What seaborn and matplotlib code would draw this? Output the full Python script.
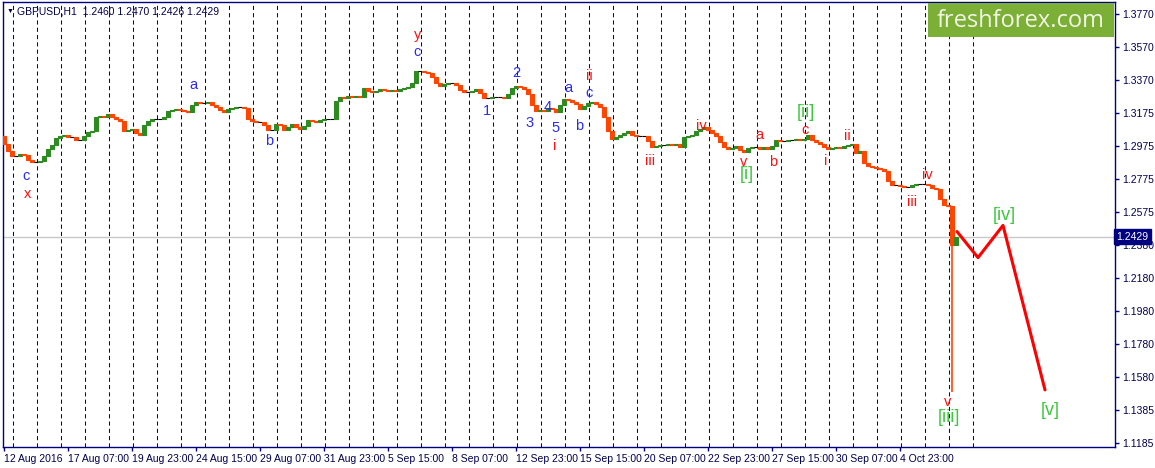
import numpy as np
import pandas as pd
import matplotlib
matplotlib.use("Agg")
import matplotlib.pyplot as plt
from matplotlib.patches import Rectangle
import seaborn as sns

# ---- data --------------------------------------------------------------
header = "GBPUSD,H1  1.2460 1.2470 1.2426 1.2429"
last_price = 1.2429

first_open = 1.3033
# closes of consecutive 4-hour blocks (12 Aug 2016 15:00 -> 7 Oct 2016)
closes = [
    1.2985, 1.2943, 1.2912, 1.2912, 1.2925, 1.2918, 1.2888, 1.2876, 1.2876, 1.2882,
    1.2912, 1.2955, 1.2979, 1.3021, 1.3033, 1.3039, 1.3027, 1.3027, 1.3009, 1.3009,
    1.3033, 1.3057, 1.3063, 1.3148, 1.3154, 1.3148, 1.3166, 1.3148, 1.3136, 1.3124,
    1.3063, 1.3069, 1.3075, 1.3051, 1.3039, 1.3100, 1.3124, 1.3136, 1.3136, 1.3136,
    1.3148, 1.3184, 1.3190, 1.3196, 1.3190, 1.3184, 1.3178, 1.3221, 1.3239, 1.3233,
    1.3233, 1.3239, 1.3221, 1.3208, 1.3190, 1.3178, 1.3196, 1.3202, 1.3208, 1.3208,
    1.3202, 1.3136, 1.3124, 1.3118, 1.3118, 1.3100, 1.3069, 1.3069, 1.3106, 1.3100,
    1.3069, 1.3088, 1.3106, 1.3088, 1.3075, 1.3094, 1.3130, 1.3124, 1.3118, 1.3130,
    1.3136, 1.3136, 1.3136, 1.3245, 1.3269, 1.3263, 1.3275, 1.3269, 1.3275, 1.3269,
    1.3323, 1.3305, 1.3299, 1.3305, 1.3317, 1.3311, 1.3305, 1.3311, 1.3305, 1.3317,
    1.3323, 1.3329, 1.3353, 1.3426, 1.3426, 1.3420, 1.3414, 1.3390, 1.3353, 1.3335,
    1.3347, 1.3353, 1.3353, 1.3341, 1.3311, 1.3299, 1.3299, 1.3305, 1.3317, 1.3293,
    1.3263, 1.3263, 1.3269, 1.3269, 1.3269, 1.3263, 1.3287, 1.3323, 1.3335, 1.3329,
    1.3317, 1.3287, 1.3221, 1.3184, 1.3190, 1.3184, 1.3202, 1.3196, 1.3178, 1.3221,
    1.3257, 1.3251, 1.3239, 1.3227, 1.3196, 1.3214, 1.3233, 1.3239, 1.3227, 1.3208,
    1.3148, 1.3063, 1.3015, 1.3027, 1.3039, 1.3051, 1.3063, 1.3039, 1.3033, 1.3033,
    1.3033, 1.3003, 1.2967, 1.2973, 1.2979, 1.2979, 1.2985, 1.2979, 1.2985, 1.2967,
    1.3027, 1.3033, 1.3039, 1.3063, 1.3075, 1.3088, 1.3069, 1.3051, 1.3033, 1.2997,
    1.2967, 1.2955, 1.2961, 1.2973, 1.2949, 1.2937, 1.2961, 1.2967, 1.2967, 1.2955,
    1.2967, 1.2955, 1.2973, 1.3009, 1.3003, 1.3003, 1.3009, 1.3009, 1.3015, 1.3009,
    1.3015, 1.3039, 1.3009, 1.2997, 1.2985, 1.2967, 1.2955, 1.2961, 1.2967, 1.2961,
    1.2973, 1.2979, 1.2985, 1.2931, 1.2943, 1.2870, 1.2852, 1.2846, 1.2840, 1.2834,
    1.2822, 1.2761, 1.2737, 1.2737, 1.2731, 1.2725, 1.2725, 1.2737, 1.2743, 1.2743,
    1.2743, 1.2737, 1.2719, 1.2713, 1.2653, 1.2616, 1.2610, 1.2381, 1.2429,
]
crash_block = 237
crash_low = 1.1491

date_labels = ["12 Aug 2016", "17 Aug 07:00", "19 Aug 23:00", "24 Aug 15:00",
               "29 Aug 07:00", "31 Aug 23:00", "5 Sep 15:00", "8 Sep 07:00",
               "12 Sep 23:00", "15 Sep 15:00", "20 Sep 07:00", "22 Sep 23:00",
               "27 Sep 15:00", "30 Sep 07:00", "4 Oct 23:00"]
price_labels = ["1.3770", "1.3570", "1.3370", "1.3175", "1.2975", "1.2775", "1.2575",
                "1.2380", "1.2180", "1.1980", "1.1780", "1.1580", "1.1385", "1.1185"]

# forecast path (bar index, price)
proj_bar = [953, 974, 999, 1041]
proj_price = [1.2459, 1.2302, 1.2496, 1.1505]

# wave labels: text, bar index, price, colour key
waves = [
    ("c", 22, 1.2792, "b"), ("x", 24, 1.2683, "r"), ("a", 189, 1.3341, "b"),
    ("b", 265, 1.3003, "b"), ("y", 414, 1.3643, "r"), ("c", 413, 1.3540, "b"),
    ("1", 483, 1.3184, "b"), ("2", 512, 1.3414, "b"), ("3", 526, 1.3112, "b"),
    ("4", 544, 1.3208, "b"), ("5", 552, 1.3081, "b"), ("i", 551, 1.2973, "r"),
    ("a", 564, 1.3323, "b"), ("ii", 585, 1.3396, "r"), ("c", 585, 1.3293, "b"),
    ("b", 575, 1.3094, "b"), ("iii", 646, 1.2882, "r"), ("iv", 697, 1.3094, "r"),
    ("v", 740, 1.2880, "r"), ("[i]", 743, 1.2800, "g"), ("a", 755, 1.3039, "r"),
    ("b", 769, 1.2876, "r"), ("[ii]", 802, 1.3178, "g"), ("c", 801, 1.3069, "r"),
    ("i", 822, 1.2882, "r"), ("ii", 843, 1.3033, "r"), ("iii", 908, 1.2635, "r"),
    ("iv", 923, 1.2798, "r"), ("v", 944, 1.1433, "r"), ("[iii]", 945, 1.1336, "g"),
    ("[iv]", 1000, 1.2556, "g"), ("[v]", 1046, 1.1378, "g"),
]

# ---- styling -------------------------------------------------------------
sns.set_style("white")
plt.rcParams["font.family"] = ["Liberation Sans", "DejaVu Sans"]

navy = "#000080"
up_col, down_col, flat_col = "#2E8B22", "#FF4500", "#000000"
wave_cols = {"b": "#2A2AF5", "r": "#FF1010", "g": "#3CC83C"}

W, H = 1155, 468
fig = plt.figure(figsize=(W / 100, H / 100), dpi=100)
ax = fig.add_axes([3 / W, (H - 447) / H, (1115 - 3) / W, (447 - 2) / H])
ax.set_xlim(-1, 1111)
ax.set_ylim(1.1161, 1.3842)

# day separators
for b in range(9, 980, 24):
    ax.axvline(b, color="#00009A", lw=0.75, ls=(0, (4, 3)), zorder=1)

# current price line
ax.axhline(last_price, color="#C8C8C8", lw=1, zorder=1)

# candles
opens = [first_open] + closes[:-1]
for k, (o, c) in enumerate(zip(opens, closes)):
    col = up_col if c > o else (down_col if c < o else flat_col)
    lo, hi = min(o, c), max(o, c)
    ax.bar(4 * k, hi - lo, bottom=lo, width=4, color=col, edgecolor=col,
           linewidth=0.8, zorder=3)
ax.vlines(4 * crash_block, crash_low, opens[crash_block], color=down_col, lw=1.2, zorder=3)

# forecast path
proj = pd.DataFrame({"bar": proj_bar, "price": proj_price})
sns.lineplot(data=proj, x="bar", y="price", sort=False, color="#FF0000", lw=2.2,
             ax=ax, zorder=4)

# wave labels
for txt, b, p, key in waves:
    big = txt.startswith("[")
    ax.text(b, p, txt, color=wave_cols[key], fontsize=13 if big else 10.5,
            ha="center", va="center", zorder=5)

# axes look
for s in ax.spines.values():
    s.set_color(navy)
    s.set_linewidth(1)
ax.set_xlabel("")
ax.set_ylabel("")
ax.yaxis.tick_right()
ax.set_yticks([float(v) for v in price_labels])
ax.set_yticklabels(price_labels)
ax.set_xticks(range(0, 64 * len(date_labels), 64))
ax.set_xticklabels(date_labels, ha="left")
ax.tick_params(axis="both", colors=navy, labelcolor="#000050", labelsize=7.5,
               length=3, width=1, direction="out", pad=2)
ax.tick_params(axis="x", bottom=True)
ax.tick_params(axis="y", right=True, left=False)

# price tag
ax.text(1.0015, last_price, "1.2429", transform=ax.get_yaxis_transform(),
        ha="left", va="center", fontsize=7.5, color="white", zorder=10,
        bbox=dict(boxstyle="square,pad=0.25", fc=navy, ec=navy), clip_on=False)

# header
fig.text(7 / W, 1 - 11 / H, "\u25bc", fontsize=5, color="#000050", va="center")
fig.text(17 / W, 1 - 11 / H, header, fontsize=7.5, color="#000050", va="center")

# logo
fig.patches.append(Rectangle((928 / W, 1 - 37 / H), (1114 - 928) / W, 34 / H,
                             transform=fig.transFigure, fc="#7CAF35", ec="none",
                             zorder=6))
fig.text(1021 / W, 1 - 21 / H, "freshforex.com", fontsize=17, color="#F2F5E6",
         family="Open Sans", ha="center", va="center", zorder=7)

fig.savefig("out.png", dpi=100)
